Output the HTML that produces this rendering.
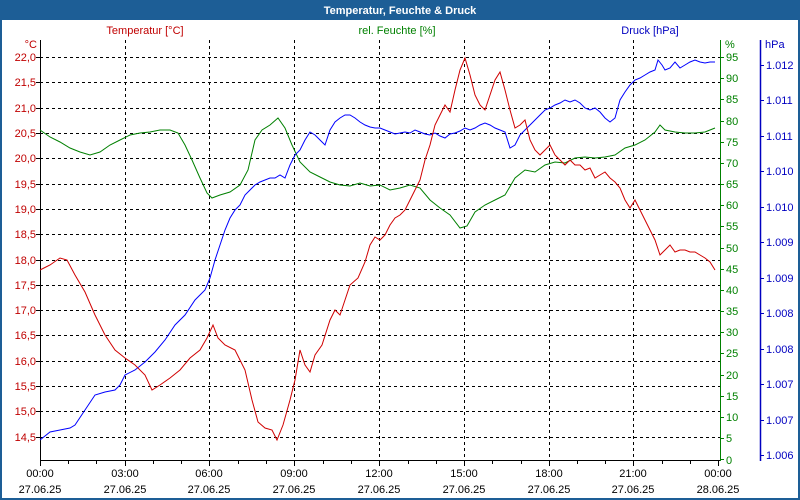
<!DOCTYPE html>
<html><head><meta charset="utf-8"><style>
html,body{margin:0;padding:0;background:#fff}
svg{display:block;font-family:"Liberation Sans",Tahoma,sans-serif;font-size:11px}
</style></head><body>
<svg width="800" height="500" xmlns="http://www.w3.org/2000/svg">
<rect x="0" y="0" width="800" height="500" fill="#1d5e96"/>
<rect x="2" y="20" width="796" height="478" fill="#fff"/>
<text x="400" y="14" fill="#fff" font-weight="bold" text-anchor="middle">Temperatur, Feuchte &amp; Druck</text>
<text x="145" y="34" fill="#c00000" text-anchor="middle">Temperatur [°C]</text>
<text x="397" y="34" fill="#008000" text-anchor="middle">rel. Feuchte [%]</text>
<text x="650" y="34" fill="#0000c0" text-anchor="middle">Druck [hPa]</text>
<text x="37" y="48" fill="#c00000" text-anchor="end">°C</text>
<text x="725" y="48" fill="#008000">%</text>
<text x="765" y="48" fill="#0000c0">hPa</text>
<g stroke="#000" stroke-dasharray="3,3" stroke-width="1">
<line x1="40" x2="720" y1="57.5" y2="57.5"/><line x1="40" x2="720" y1="82.5" y2="82.5"/><line x1="40" x2="720" y1="108.5" y2="108.5"/><line x1="40" x2="720" y1="133.5" y2="133.5"/><line x1="40" x2="720" y1="158.5" y2="158.5"/><line x1="40" x2="720" y1="184.5" y2="184.5"/><line x1="40" x2="720" y1="209.5" y2="209.5"/><line x1="40" x2="720" y1="234.5" y2="234.5"/><line x1="40" x2="720" y1="260.5" y2="260.5"/><line x1="40" x2="720" y1="285.5" y2="285.5"/><line x1="40" x2="720" y1="310.5" y2="310.5"/><line x1="40" x2="720" y1="335.5" y2="335.5"/><line x1="40" x2="720" y1="361.5" y2="361.5"/><line x1="40" x2="720" y1="386.5" y2="386.5"/><line x1="40" x2="720" y1="411.5" y2="411.5"/><line x1="40" x2="720" y1="437.5" y2="437.5"/>
<line y1="40" y2="460" x1="125.5" x2="125.5"/><line y1="40" y2="460" x1="209.5" x2="209.5"/><line y1="40" y2="460" x1="294.5" x2="294.5"/><line y1="40" y2="460" x1="379.5" x2="379.5"/><line y1="40" y2="460" x1="464.5" x2="464.5"/><line y1="40" y2="460" x1="549.5" x2="549.5"/><line y1="40" y2="460" x1="633.5" x2="633.5"/>
</g>
<g stroke="#000"><line x1="40.5" y1="40" x2="40.5" y2="461"/><line x1="40" y1="460.5" x2="720" y2="460.5"/>
<path d="M40.5 460v6M68.5 460v4M96.5 460v4M125.5 460v6M153.5 460v4M181.5 460v4M209.5 460v6M238.5 460v4M266.5 460v4M294.5 460v6M323.5 460v4M351.5 460v4M379.5 460v6M408.5 460v4M436.5 460v4M464.5 460v6M492.5 460v4M521.5 460v4M549.5 460v6M577.5 460v4M605.5 460v4M633.5 460v6M662.5 460v4M690.5 460v4M718.5 460v6"/>
<path d="M36 57.5h4M36 82.5h4M36 108.5h4M36 133.5h4M36 158.5h4M36 184.5h4M36 209.5h4M36 234.5h4M36 260.5h4M36 285.5h4M36 310.5h4M36 335.5h4M36 361.5h4M36 386.5h4M36 411.5h4M36 437.5h4"/></g>
<line x1="720.5" y1="40" x2="720.5" y2="461" stroke="#008000"/>
<g stroke="#008000"><path d="M720 57.5h4M720 78.5h4M720 99.5h4M720 121.5h4M720 142.5h4M720 163.5h4M720 184.5h4M720 205.5h4M720 226.5h4M720 248.5h4M720 269.5h4M720 290.5h4M720 311.5h4M720 332.5h4M720 353.5h4M720 375.5h4M720 396.5h4M720 417.5h4M720 438.5h4M720 459.5h4"/></g>
<line x1="760.5" y1="40" x2="760.5" y2="461" stroke="#0000c0" stroke-width="1.5"/>
<g stroke="#0000c0"><path d="M760 65.5h4M760 100.5h4M760 136.5h4M760 171.5h4M760 207.5h4M760 242.5h4M760 278.5h4M760 313.5h4M760 349.5h4M760 384.5h4M760 420.5h4M760 455.5h4"/></g>
<g fill="#c00000" text-anchor="end">
<text x="36" y="61">22,0</text><text x="36" y="86">21,5</text><text x="36" y="112">21,0</text><text x="36" y="137">20,5</text><text x="36" y="162">20,0</text><text x="36" y="188">19,5</text><text x="36" y="213">19,0</text><text x="36" y="238">18,5</text><text x="36" y="264">18,0</text><text x="36" y="289">17,5</text><text x="36" y="314">17,0</text><text x="36" y="339">16,5</text><text x="36" y="365">16,0</text><text x="36" y="390">15,5</text><text x="36" y="415">15,0</text><text x="36" y="441">14,5</text></g>
<g fill="#008000">
<text x="726" y="61">95</text><text x="726" y="82">90</text><text x="726" y="103">85</text><text x="726" y="125">80</text><text x="726" y="146">75</text><text x="726" y="167">70</text><text x="726" y="188">65</text><text x="726" y="209">60</text><text x="726" y="230">55</text><text x="726" y="252">50</text><text x="726" y="273">45</text><text x="726" y="294">40</text><text x="726" y="315">35</text><text x="726" y="336">30</text><text x="726" y="357">25</text><text x="726" y="379">20</text><text x="726" y="400">15</text><text x="726" y="421">10</text><text x="726" y="442">5</text><text x="726" y="464">0</text></g>
<g fill="#0000c0">
<text x="766" y="69">1.012</text><text x="766" y="104">1.011</text><text x="766" y="140">1.011</text><text x="766" y="175">1.010</text><text x="766" y="211">1.010</text><text x="766" y="246">1.009</text><text x="766" y="282">1.009</text><text x="766" y="317">1.008</text><text x="766" y="353">1.008</text><text x="766" y="388">1.007</text><text x="766" y="424">1.007</text><text x="766" y="459">1.006</text></g>
<g fill="#000" text-anchor="middle">
<text x="40" y="477">00:00</text><text x="125" y="477">03:00</text><text x="209" y="477">06:00</text><text x="294" y="477">09:00</text><text x="379" y="477">12:00</text><text x="464" y="477">15:00</text><text x="549" y="477">18:00</text><text x="633" y="477">21:00</text><text x="718" y="477">00:00</text>
<text x="40" y="493">27.06.25</text><text x="125" y="493">27.06.25</text><text x="209" y="493">27.06.25</text><text x="294" y="493">27.06.25</text><text x="379" y="493">27.06.25</text><text x="464" y="493">27.06.25</text><text x="549" y="493">27.06.25</text><text x="633" y="493">27.06.25</text><text x="718" y="493">28.06.25</text></g>
<polyline fill="none" stroke="#008000" stroke-width="1" points="40,130 50,137 60,142 70,148 80,152 90,155 100,152 110,145 120,140 130,135 140,133 150,132 160,130 170,130 178,133 185,145 192,160 200,178 207,193 212,198 220,195 230,192 240,185 248,170 255,140 262,130 270,125 278,118 285,128 292,145 300,162 310,172 320,177 330,182 340,185 350,186 360,183 370,186 380,185 390,190 400,188 410,185 420,188 430,200 440,208 450,215 460,228 467,226 475,212 485,205 495,200 505,195 515,178 525,170 535,172 545,165 555,162 565,163 575,158 585,157 595,158 605,157 615,155 625,148 635,145 645,140 655,132 660,125 665,130 675,132 685,133 695,133 705,132 715,128"/>
<polyline fill="none" stroke="#0000ff" stroke-width="1" points="40,440 50,432 60,430 70,428 75,425 85,410 95,395 105,392 115,390 120,385 125,375 135,370 145,362 155,352 165,340 175,325 185,315 195,300 205,290 210,278 215,260 220,245 225,230 230,218 235,210 240,205 245,195 250,190 255,185 260,182 265,180 270,178 275,178 280,175 285,178 290,165 295,155 300,150 305,140 310,132 315,135 320,140 325,145 330,130 335,122 340,118 345,115 350,115 355,118 360,122 365,125 370,127 375,128 380,128 385,130 390,132 395,134 400,133 405,132 410,133 415,130 420,132 425,134 430,135 435,133 440,136 445,138 450,134 455,133 460,131 465,128 470,130 475,128 480,125 485,123 490,125 495,128 500,130 505,132 510,148 515,145 520,135 525,130 530,125 535,120 540,115 545,110 550,108 555,105 560,103 565,100 570,102 575,100 580,103 585,108 590,110 595,108 600,112 605,118 610,122 615,118 620,100 625,92 630,85 635,80 640,78 645,75 650,72 655,70 658,60 662,65 665,70 670,68 675,62 680,68 685,65 690,62 695,60 700,62 705,63 710,62 715,62"/>
<polyline fill="none" stroke="#d00000" stroke-width="1" points="40,270 50,265 60,258 67,260 75,275 85,292 95,315 105,335 115,350 125,358 135,365 145,375 152,390 160,385 170,378 180,370 190,358 200,350 207,338 213,325 218,338 225,345 235,350 245,370 252,400 258,422 265,428 272,430 277,440 283,425 290,400 295,380 300,350 305,365 310,372 315,355 322,345 330,320 335,310 340,315 345,300 350,285 358,278 365,262 370,245 375,237 380,240 385,235 390,225 395,218 400,215 405,210 410,200 415,190 420,180 425,160 430,145 435,125 440,115 445,105 450,112 455,90 460,70 465,58 470,75 475,95 480,105 485,110 490,95 495,80 500,72 505,90 510,110 515,128 520,125 525,120 530,140 535,150 540,155 545,150 550,145 555,155 560,160 565,165 570,160 575,165 580,165 585,170 590,168 595,178 600,175 605,172 610,178 615,182 620,188 625,200 630,208 635,200 640,210 645,220 650,230 655,240 660,255 665,250 670,245 675,252 680,250 685,250 690,252 695,252 700,255 705,258 710,262 715,270"/>
</svg>
</body></html>
